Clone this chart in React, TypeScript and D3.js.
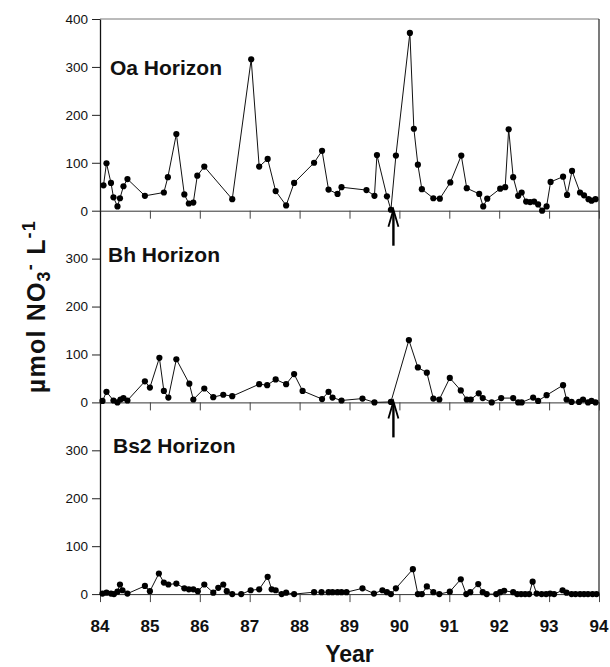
import React, { useEffect, useRef } from 'react';
import * as d3 from 'd3';

// Oa horizon (year, umol NO3- per L)
const oaYear = [84.07, 84.13, 84.22, 84.27, 84.35, 84.4, 84.47, 84.55, 84.9, 85.28, 85.36, 85.53, 85.69, 85.78, 85.87, 85.95, 86.09, 86.65, 87.03, 87.19, 87.36, 87.52, 87.73, 87.89, 88.29, 88.45, 88.58, 88.76, 88.84, 89.34, 89.5, 89.55, 89.75, 89.83, 89.93, 90.21, 90.29, 90.37, 90.45, 90.68, 90.81, 91.02, 91.24, 91.35, 91.6, 91.68, 91.76, 92.02, 92.12, 92.19, 92.28, 92.38, 92.45, 92.54, 92.62, 92.7, 92.78, 92.86, 92.95, 93.03, 93.28, 93.36, 93.46, 93.62, 93.7, 93.79, 93.85, 93.93];
const oaValue = [53, 99, 58, 28, 9, 26, 51, 66, 31, 38, 70, 160, 34, 15, 17, 73, 92, 24, 316, 92, 108, 41, 11, 58, 100, 125, 44, 35, 49, 43, 31, 116, 30, 2, 115, 371, 171, 96, 45, 26, 25, 59, 115, 47, 35, 9, 25, 46, 49, 170, 70, 31, 38, 19, 18, 19, 13, 0, 9, 60, 71, 33, 83, 38, 32, 24, 21, 24];

// Bh horizon
const bhYear = [84.05, 84.13, 84.27, 84.35, 84.41, 84.47, 84.55, 84.9, 85.0, 85.19, 85.28, 85.37, 85.53, 85.79, 85.87, 86.09, 86.27, 86.47, 86.65, 87.19, 87.35, 87.52, 87.73, 87.89, 88.06, 88.45, 88.58, 88.66, 88.84, 89.26, 89.5, 89.83, 90.19, 90.37, 90.55, 90.68, 90.8, 91.01, 91.23, 91.35, 91.43, 91.59, 91.67, 91.85, 92.04, 92.28, 92.38, 92.45, 92.68, 92.78, 92.95, 93.28, 93.35, 93.45, 93.6, 93.68, 93.78, 93.85, 93.93];
const bhValue = [3, 22, 4, 0, 6, 9, 4, 44, 31, 93, 24, 10, 90, 39, 6, 29, 11, 16, 13, 38, 36, 48, 38, 59, 24, 7, 22, 10, 4, 8, 0, 1, 130, 73, 62, 8, 6, 51, 25, 6, 6, 19, 9, 0, 9, 9, 0, 0, 10, 3, 15, 36, 6, 1, 1, 6, 0, 3, 0];

// Bs2 horizon
const bsYear = [84.05, 84.13, 84.22, 84.28, 84.35, 84.4, 84.45, 84.55, 84.9, 85.0, 85.18, 85.28, 85.37, 85.53, 85.69, 85.78, 85.87, 85.96, 86.09, 86.27, 86.37, 86.47, 86.54, 86.65, 86.83, 87.02, 87.19, 87.36, 87.44, 87.52, 87.64, 87.73, 87.89, 88.29, 88.44, 88.58, 88.66, 88.76, 88.84, 88.94, 89.26, 89.49, 89.66, 89.75, 89.83, 89.93, 90.27, 90.37, 90.45, 90.55, 90.68, 90.8, 91.01, 91.23, 91.34, 91.42, 91.58, 91.67, 91.75, 91.94, 92.02, 92.1, 92.28, 92.36, 92.44, 92.52, 92.6, 92.67, 92.75, 92.85, 92.94, 93.02, 93.1, 93.27, 93.35, 93.45, 93.53, 93.62, 93.7, 93.78, 93.87, 93.95];
const bsValue = [1, 3, 1, 0, 5, 20, 8, 1, 17, 6, 43, 24, 20, 22, 12, 10, 10, 6, 20, 3, 13, 20, 6, 0, 0, 8, 10, 36, 10, 8, 0, 3, 0, 4, 4, 4, 4, 4, 4, 4, 12, 1, 8, 4, 0, 12, 52, 0, 0, 16, 4, 0, 5, 31, 0, 4, 21, 4, 0, 0, 4, 7, 4, 0, 0, 0, 0, 26, 1, 0, 0, 1, 0, 8, 3, 0, 0, 0, 0, 0, 0, 0];

const panelNames = ['Oa Horizon', 'Bh Horizon', 'Bs2 Horizon'];
const xTicks = [84, 85, 86, 87, 88, 89, 90, 91, 92, 93, 94];
const arrowYear = 89.88;

const W = 610;
const H = 667;
const left = 100;
const right = 599;
const top = 19;
const panelH = 191.7;
const font = '"Liberation Sans", Arial, sans-serif';

const App = () => {
  const svgRef = useRef<SVGSVGElement>(null);

  useEffect(() => {
    const svg = d3.select(svgRef.current);
    svg.selectAll('*').remove();

    const x = d3.scaleLinear().domain([84, 94]).range([left, right]);
    const series = [
      { year: oaYear, value: oaValue, ticks: [0, 100, 200, 300, 400] },
      { year: bhYear, value: bhValue, ticks: [0, 100, 200, 300] },
      { year: bsYear, value: bsValue, ticks: [0, 100, 200, 300] },
    ];

    // frame: top and right border
    svg.append('line')
      .attr('x1', left).attr('x2', right).attr('y1', top).attr('y2', top)
      .attr('stroke', '#777').attr('stroke-width', 1);
    svg.append('line')
      .attr('x1', right).attr('x2', right).attr('y1', top).attr('y2', top + 3 * panelH)
      .attr('stroke', '#222').attr('stroke-width', 1.2);

    series.forEach((s, i) => {
      const bottom = top + (i + 1) * panelH;
      const y = d3.scaleLinear().domain([0, 400]).range([bottom, bottom - panelH]);
      const g = svg.append('g');

      // y axis
      const yAxis = g.append('g')
        .attr('transform', `translate(${left},0)`)
        .call(d3.axisLeft(y).tickValues(s.ticks).tickSize(8).tickPadding(4).tickSizeOuter(0));
      yAxis.select('.domain').attr('stroke', '#111').attr('stroke-width', 1.3);
      yAxis.selectAll('.tick line').attr('stroke', '#222');
      yAxis.selectAll('text')
        .attr('font-family', font).attr('font-size', 13.5).attr('fill', '#111');

      // x axis at panel bottom
      const xAxis = g.append('g')
        .attr('transform', `translate(0,${bottom})`)
        .call(d3.axisBottom(x).tickValues(xTicks).tickSize(8).tickSizeOuter(0).tickFormat(() => ''));
      xAxis.select('.domain').attr('stroke', '#333').attr('stroke-width', 1);
      xAxis.selectAll('.tick line').attr('stroke', '#444');

      const pts = s.year.map((yr, k) => [yr, s.value[k]] as [number, number]);
      const line = d3.line<[number, number]>()
        .x(d => x(d[0]))
        .y(d => y(d[1]));
      g.append('path')
        .datum(pts)
        .attr('fill', 'none')
        .attr('stroke', '#111')
        .attr('stroke-width', 1)
        .attr('d', line);
      g.selectAll('circle')
        .data(pts)
        .enter().append('circle')
        .attr('cx', d => x(d[0]))
        .attr('cy', d => y(d[1]))
        .attr('r', 3.1)
        .attr('fill', '#000');

      g.append('text')
        .attr('x', i === 2 ? 113 : i === 1 ? 108 : 110)
        .attr('y', bottom - panelH + (i === 0 ? 56 : 51))
        .attr('font-family', font).attr('font-weight', 'bold').attr('font-size', 21)
        .attr('fill', '#111')
        .text(panelNames[i]);

      // arrows below Oa and Bh panels
      if (i < 2) {
        const ax = x(arrowYear);
        const tip = bottom - 1;
        g.append('line')
          .attr('x1', ax).attr('x2', ax).attr('y1', tip + 2).attr('y2', tip + 36)
          .attr('stroke', '#000').attr('stroke-width', 2.4);
        g.append('path')
          .attr('d', `M${ax - 5},${tip + 17} L${ax},${tip} L${ax + 5},${tip + 17}`)
          .attr('fill', 'none').attr('stroke', '#000').attr('stroke-width', 1.8);
      }
    });

    // x tick labels
    svg.append('g')
      .selectAll('text')
      .data(xTicks)
      .enter().append('text')
      .attr('x', d => x(d))
      .attr('y', 632)
      .attr('text-anchor', 'middle')
      .attr('font-family', font).attr('font-weight', 'bold').attr('font-size', 17)
      .attr('fill', '#111')
      .text(d => d);

    svg.append('text')
      .attr('x', (left + right) / 2)
      .attr('y', 662)
      .attr('text-anchor', 'middle')
      .attr('font-family', font).attr('font-weight', 'bold').attr('font-size', 23)
      .attr('fill', '#111')
      .text('Year');

    // y label
    const yl = svg.append('text')
      .attr('transform', `translate(45,${top + 1.5 * panelH}) rotate(-90)`)
      .attr('text-anchor', 'middle')
      .attr('font-family', font).attr('font-weight', 'bold').attr('font-size', 25)
      .attr('letter-spacing', 1.2)
      .attr('fill', '#111');
    yl.append('tspan').text('\u00b5mol NO');
    yl.append('tspan').attr('dy', 5).attr('font-size', 18).text('3');
    yl.append('tspan').attr('dy', -14).attr('font-size', 18).text('-');
    yl.append('tspan').attr('dy', 9).text(' L');
    yl.append('tspan').attr('dy', -10).attr('font-size', 18).text('-1');
  }, []);

  return (
    <div style={{ position: 'absolute', left: 0, top: 0, width: W, height: H, background: '#fff' }}>
      <svg ref={svgRef} width={W} height={H}></svg>
    </div>
  );
};

export default App;
